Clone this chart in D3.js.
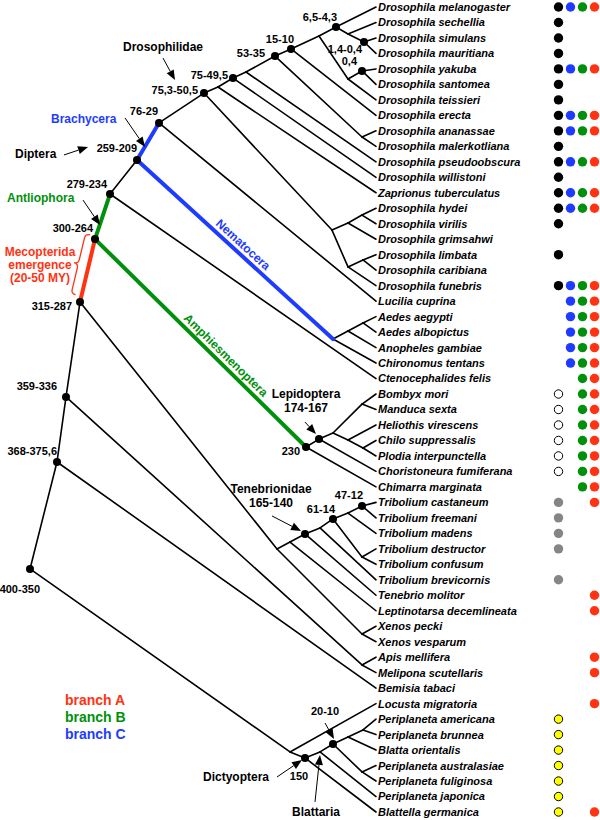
<!DOCTYPE html>
<html><head><meta charset="utf-8">
<script src="https://cdn.jsdelivr.net/npm/d3@7"></script>
<style>
html,body{margin:0;padding:0;background:#fff;}
svg{display:block;font-family:"Liberation Sans",Arial,Helvetica,sans-serif;}
</style></head><body>
<svg id="chart" width="600" height="820"></svg>
<script>
// ---------------- DATA ----------------
const leafNames = [
 "Drosophila melanogaster","Drosophila sechellia","Drosophila simulans","Drosophila mauritiana",
 "Drosophila yakuba","Drosophila santomea","Drosophila teissieri","Drosophila erecta",
 "Drosophila ananassae","Drosophila malerkotliana","Drosophila pseudoobscura","Drosophila willistoni",
 "Zaprionus tuberculatus","Drosophila hydei","Drosophila virilis","Drosophila grimsahwi",
 "Drosophila limbata","Drosophila caribiana","Drosophila funebris","Lucilia cuprina",
 "Aedes aegypti","Aedes albopictus","Anopheles gambiae","Chironomus tentans","Ctenocephalides felis",
 "Bombyx mori","Manduca sexta","Heliothis virescens","Chilo suppressalis","Plodia interpunctella",
 "Choristoneura fumiferana","Chimarra marginata","Tribolium castaneum","Tribolium freemani",
 "Tribolium madens","Tribolium destructor","Tribolium confusum","Tribolium brevicornis",
 "Tenebrio molitor","Leptinotarsa decemlineata","Xenos pecki","Xenos vesparum","Apis mellifera",
 "Melipona scutellaris","Bemisia tabaci","Locusta migratoria","Periplaneta americana",
 "Periplaneta brunnea","Blatta orientalis","Periplaneta australasiae","Periplaneta fuliginosa",
 "Periplaneta japonica","Blattella germanica"];

const leafParent = [
 "nMel","nSech","nSim","nSim","nYak","nYak","nYT","n15","nAna","nAna","nP","n75","nZ",
 "nHh","nHh","nH1","nHl","nHl","nH2","n76","nAed","nAed","nN1","nNem","n279",
 "nBM","nBM","nL2","nCP","nCP","nLep","nAmph","n47","n47","nMad","nDC","nDC","nBrev",
 "nTen","nCol","nXen","nXen","nApis","nApis","n368","nDL","nP2","nP2","nP1","nAF","nAF",
 "nBlat","nDict"];

// internal nodes: id, parent, depth (layout units, 0 = root, 346 = tips), row (leaf-row units)
const nodeIds    = ["root","n368","n359","n315","n300","n279","n259","n76","n753","nZ","n75","nP","n53","n15","nMS","nMel","nSech","nSim","nYT","nYak","nAna","nH","nH1","nHh","nH2","nHl","nNem","nN1","nAed","nAmph","nLep","nL1","nBM","nL2","nCP","nCS","nCol","nTen","nBrev","n61","nMad","n47","nDC","nXen","nApis","nDL","nDict","nBlat","n20","nP1","nP2","nAF"];
const nodeParent = [null,"root","n368","n359","n315","n300","n279","n259","n76","n753","nZ","n75","nP","n53","n15","nMS","nMel","nSech","nMS","nYT","n53","n753","nH","nH1","nH","nH2","n259","nNem","nN1","n300","nAmph","nLep","nL1","nL1","nL2","n315","nCS","nCol","nTen","nBrev","n61","nMad","n61","nCS","n359","root","nDL","nDict","nBlat","n20","nP1","n20"];
const nodeDepth  = [0,27,36,50,65,80,107,129,174,188,203,216,245,261,289,306,318,334,318,332,332,302,318,332,318,333,303,318,333,276,289,303,332,318,333,247,260,275,290,303,318,332,332,332,332,260,275,290,303,318,333,332];
const nodeRow    = [36.30,29.39,25.19,19.06,14.99,12.08,9.88,7.49,5.56,5.17,4.59,4.20,3.17,2.71,1.87,1.29,1.74,2.26,4.65,4.13,8.40,14.41,13.95,13.44,16.79,16.34,21.45,20.93,20.41,28.42,27.91,27.52,25.65,27.97,28.49,35.01,34.56,34.04,33.65,33.07,32.69,32.23,35.53,40.50,42.50,48.12,48.51,48.12,47.61,47.15,46.70,49.41];
const nodeAge    = ["400-350","368-375,6","359-336","315-287","300-264","279-234","259-209","76-29","75,3-50,5","","75-49,5","","53-35","15-10","","6,5-4,3","","1,4-0,4","","0,4","","","","","","","","","","230","174-167","","","","","","","165-140","","61-14","","47-12","","","","","150","","20-10","","",""];

// coloured branches (parent, child)
const branchA = [["n315","n300"]];
const branchB = [["n300","n279"],["n300","nAmph"]];
const branchC = [["n259","n76"],["n259","nNem"]];

// presence columns per species
const colFirst = ["k","k","k","k","k","k","k","k","k","k","k","k","k","k","k","","k","","k",
 "","","","","","", "o","o","o","o","o","o","", "g","g","g","g","","g",
 "","","","","","","","", "y","y","y","y","y","y","y"];
const colBlue  = [1,0,0,0,1,0,0,1,1,0,1,0,1,1,0,0,0,0,1,1,1,1,1,1,0, 0,0,0,0,0,0,0, 0,0,0,0,0,0, 0,0,0,0,0,0,0,0, 0,0,0,0,0,0,0];
const colGreen = [1,0,0,0,1,0,0,1,1,0,1,0,1,1,0,0,0,0,1,1,1,1,1,1,1, 1,1,1,1,1,1,1, 0,0,0,0,0,0, 0,0,0,0,0,0,0,0, 0,0,0,0,0,0,0];
const colRed   = [1,0,0,0,1,0,0,1,1,0,1,0,1,1,0,0,0,0,1,1,1,1,1,1,1, 1,1,1,1,1,1,1, 1,0,0,0,0,0, 1,1,0,0,1,1,0,1, 0,0,0,0,0,0,1];

const legendLabels = ["branch A","branch B","branch C"];
const emergenceLines = ["Mecopterida","emergence","(20-50 MY)"];

// ---------------- DRAW ----------------
const RED="#ff3312", GREEN="#00900c", BLUE="#1e3cff";
const svg = d3.select("#chart");
const x = d3.scaleLinear().domain([0,346]).range([30,376]);
const y = d3.scaleLinear().domain([0,52]).range([7,812]);
const col = d3.scalePoint().domain(["first","blue","green","red"]).range([558.5,594.5]);

const pos = new Map();
nodeIds.forEach((id,i)=>pos.set(id,{x:x(nodeDepth[i]),y:y(nodeRow[i])}));
leafNames.forEach((n,i)=>pos.set("L"+i,{x:x(346),y:y(i)}));

const colorOf = (p,c)=>{
  if(branchA.some(e=>e[0]===p&&e[1]===c)) return RED;
  if(branchB.some(e=>e[0]===p&&e[1]===c)) return GREEN;
  if(branchC.some(e=>e[0]===p&&e[1]===c)) return BLUE;
  return null;
};
const edges=[];
nodeIds.forEach((id,i)=>{ if(nodeParent[i]) edges.push({p:nodeParent[i],c:id}); });
leafNames.forEach((n,i)=>edges.push({p:leafParent[i],c:"L"+i}));
edges.forEach(e=>e.color=colorOf(e.p,e.c));

const gTree=svg.append("g");
gTree.selectAll("line.thin").data(edges.filter(e=>!e.color)).join("line")
  .attr("x1",e=>pos.get(e.p).x).attr("y1",e=>pos.get(e.p).y)
  .attr("x2",e=>pos.get(e.c).x).attr("y2",e=>pos.get(e.c).y)
  .attr("stroke","#000").attr("stroke-width",1.6).attr("stroke-linecap","round");
gTree.selectAll("line.thick").data(edges.filter(e=>e.color)).join("line")
  .attr("x1",e=>pos.get(e.p).x).attr("y1",e=>pos.get(e.p).y)
  .attr("x2",e=>pos.get(e.c).x).attr("y2",e=>pos.get(e.c).y)
  .attr("stroke",e=>e.color).attr("stroke-width",4).attr("stroke-linecap","round");

// node dots
const dotted = nodeIds.map((id,i)=>({id,age:nodeAge[i]})).filter(d=>d.age);
gTree.selectAll("circle.node").data(dotted).join("circle")
  .attr("cx",d=>pos.get(d.id).x).attr("cy",d=>pos.get(d.id).y).attr("r",4).attr("fill","#000");

// species labels
svg.append("g").selectAll("text").data(leafNames).join("text")
  .attr("x",x(346)+2).attr("y",(d,i)=>y(i)).attr("dy","0.36em")
  .attr("font-size",11).attr("font-weight","bold").attr("font-style","italic")
  .text(d=>d);

// presence dots
const gDots=svg.append("g");
leafNames.forEach((n,i)=>{
  const cy=y(i);
  const f=colFirst[i];
  if(f==="k") gDots.append("circle").attr("cx",col("first")).attr("cy",cy).attr("r",4.7).attr("fill","#000");
  if(f==="g") gDots.append("circle").attr("cx",col("first")).attr("cy",cy).attr("r",4.7).attr("fill","#858585");
  if(f==="o") gDots.append("circle").attr("cx",col("first")).attr("cy",cy).attr("r",4.2).attr("fill","#fff").attr("stroke","#000").attr("stroke-width",1);
  if(f==="y") gDots.append("circle").attr("cx",col("first")).attr("cy",cy).attr("r",4.2).attr("fill","#ffff00").attr("stroke","#000").attr("stroke-width",1);
  if(colBlue[i]) gDots.append("circle").attr("cx",col("blue")).attr("cy",cy).attr("r",4.7).attr("fill",BLUE);
  if(colGreen[i]) gDots.append("circle").attr("cx",col("green")).attr("cy",cy).attr("r",4.7).attr("fill",GREEN);
  if(colRed[i]) gDots.append("circle").attr("cx",col("red")).attr("cy",cy).attr("r",4.7).attr("fill",RED);
});

// age labels (layout offsets relative to node)
const ageLayout = {
  root:["end",10,24], n368:["end",0,-7], n359:["end",-9,-7], n315:["end",-8,8],
  n300:["end",-2,-7], n279:["end",-3,-6], n259:["end",0,-8], n76:["end",-1,-8],
  n753:["end",-6,1], n75:["end",-5,1], n53:["end",-10,1], n15:["end",3,-6],
  nMel:["end",1,-6], nSim:["end",-2,11], nYak:["end",-5,-6], nAmph:["end",-6,8],
  nLep:["middle",-13,-27,12], nTen:["middle",-34,-27,12], n61:["end",2,-6], n47:["end",1,-7],
  n20:["middle",-8,-29], nDict:["middle",-6,22]
};
const gLab=svg.append("g").attr("font-weight","bold").attr("fill","#000");
dotted.forEach(d=>{
  const L=ageLayout[d.id]; const p=pos.get(d.id);
  gLab.append("text").attr("x",p.x+L[1]).attr("y",p.y+L[2]).attr("text-anchor",L[0])
    .attr("font-size",L[3]||11).text(d.age);
});
// clade names
function txt(t,xx,yy,anchor,size,color){
  return gLab.append("text").attr("x",xx).attr("y",yy).attr("text-anchor",anchor)
    .attr("font-size",size).attr("fill",color||"#000").text(t);
}
const P=id=>pos.get(id);
txt("Lepidoptera",P("nLep").x-13,P("nLep").y-41,"middle",12);
txt("Tenebrionidae",P("nTen").x-34,P("nTen").y-41,"middle",12);
txt("Drosophilidae",P("n753").x-81,P("n753").y-42,"start",12);
txt("Brachycera",P("n259").x-86,P("n259").y-37,"start",12,BLUE);
txt("Diptera",P("n259").x-122,P("n259").y-2,"start",12);
txt("Antliophora",P("n300").x-88,P("n300").y-37,"start",12,GREEN);
txt("Dictyoptera",P("nDict").x-102,P("nDict").y+23,"start",12);
txt("Blattaria",P("nBlat").x-28,P("nBlat").y+64,"start",12);

// arrows
const gArr=svg.append("g");
function arrow(id,tx,ty,hx,hy){
  const p=P(id); const x1=p.x+tx,y1=p.y+ty,x2=p.x+hx,y2=p.y+hy;
  const a=Math.atan2(y2-y1,x2-x1), L=10, w=4;
  const bx=x2-L*Math.cos(a), by=y2-L*Math.sin(a);
  gArr.append("line").attr("x1",x1).attr("y1",y1).attr("x2",bx).attr("y2",by).attr("stroke","#000").attr("stroke-width",1);
  gArr.append("path").attr("d",`M${x2},${y2}L${bx+w*Math.sin(a)},${by-w*Math.cos(a)}L${bx-w*Math.sin(a)},${by+w*Math.cos(a)}Z`).attr("fill","#000");
}
arrow("n753",-41,-35,-29,-13);
arrow("n259",-73,-5,-49,-13);
arrow("n259",-12,-42,8,-13);
arrow("n300",-12,-39,5,-14);
arrow("nLep",-14,-17,-3,-5);
arrow("nTen",-33,-18,-4,-3);
arrow("nDict",-28,19,-3,2);
arrow("nBlat",-5,50,0,3);
arrow("n20",-8,-21,1,-5);

// rotated branch names
function along(p,c,t,label,color){
  const a=P(p), b=P(c);
  const px=a.x+(b.x-a.x)*t, py=a.y+(b.y-a.y)*t;
  const ang=Math.atan2(b.y-a.y,b.x-a.x)*180/Math.PI;
  svg.append("text").attr("transform",`translate(${px},${py}) rotate(${ang})`)
    .attr("y",-5).attr("text-anchor","middle").attr("font-size",12).attr("font-weight","bold")
    .attr("fill",color).text(label);
}
along("n259","nNem",0.51,"Nematocera",BLUE);
along("n300","nAmph",0.59,"Amphiesmenoptera",GREEN);

// brace along the red branch
(function(){
  const a=P("n300"), b=P("n315");
  const len=Math.hypot(b.x-a.x,b.y-a.y), ux=(b.x-a.x)/len, uy=(b.y-a.y)/len;
  const nx=-uy, ny=ux; // normal
  const sgn = (nx<0)?1:-1; // point to the left
  const off=6, w=9, s0=-3, s1=len-6;
  const pt=(u,v)=>{const vv=sgn*(off+v);return [a.x+ux*u+nx*vv, a.y+uy*u+ny*vv];};
  const m=(s0+s1)/2, h=4.5;
  const f=p=>p.join(",");
  const d=`M${f(pt(s0,0))}Q${f(pt(s0,h))} ${f(pt(s0+h,h))}L${f(pt(m-h,h))}Q${f(pt(m,h))} ${f(pt(m,w))}Q${f(pt(m,h))} ${f(pt(m+h,h))}L${f(pt(s1-h,h))}Q${f(pt(s1,h))} ${f(pt(s1,0))}`;
  svg.append("path").attr("d",d).attr("fill","none").attr("stroke",RED).attr("stroke-width",1.3);
})();
svg.append("g").selectAll("text").data(emergenceLines).join("text")
  .attr("x",40).attr("y",(d,i)=>256+i*13).attr("text-anchor","middle")
  .attr("font-size",12).attr("font-weight","bold").attr("fill",RED).text(d=>d);

// legend
svg.append("g").selectAll("text").data(legendLabels).join("text")
  .attr("x",65).attr("y",(d,i)=>705+i*17).attr("font-size",14).attr("font-weight","bold")
  .attr("fill",(d,i)=>[RED,GREEN,BLUE][i]).text(d=>d);
</script>
</body></html>
